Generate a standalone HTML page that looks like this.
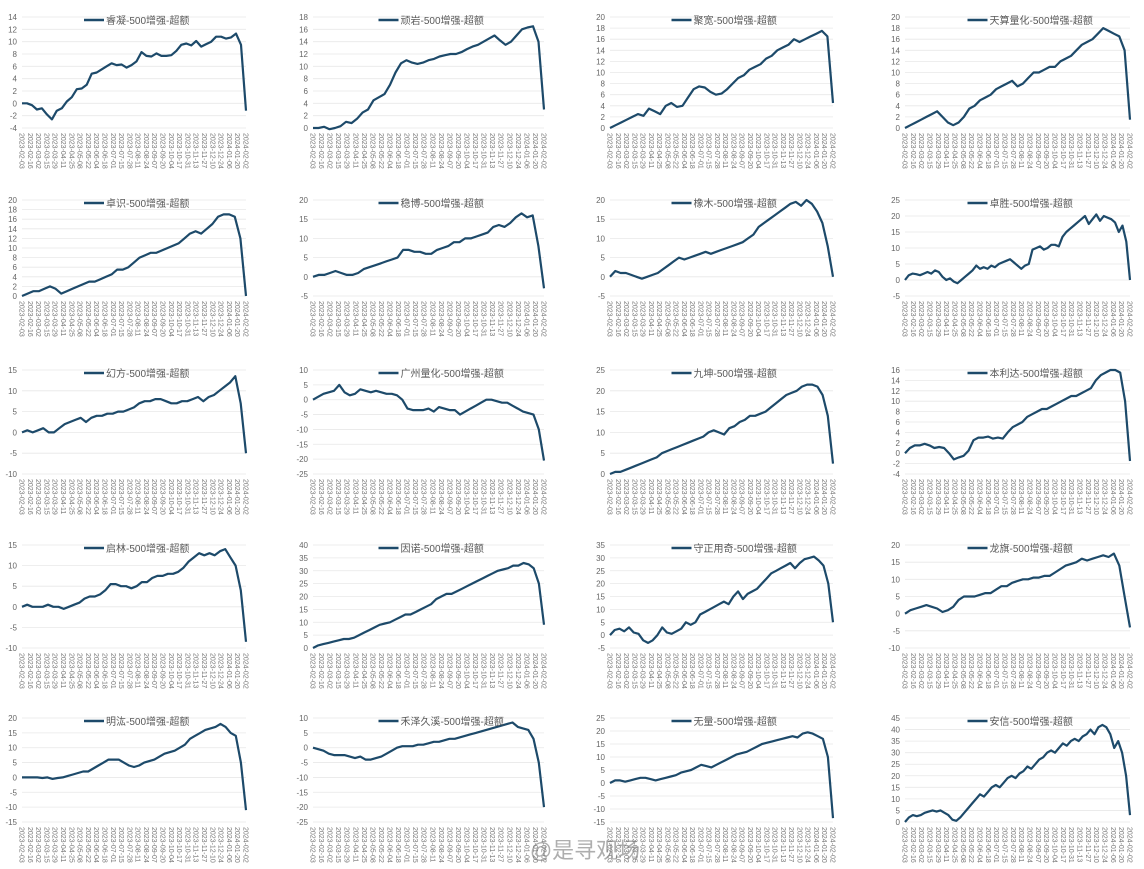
<!DOCTYPE html>
<html><head><meta charset="utf-8">
<style>
html,body{margin:0;padding:0;background:#fff;}
svg{display:block;font-family:"Liberation Sans","Noto Sans CJK SC",sans-serif;}
</style></head>
<body>
<svg id="root" width="1144" height="869" viewBox="0 0 1144 869">
<text x="585" y="858" font-size="22" fill="#9a9a9a" opacity="0.8" text-anchor="middle">@是寻观场</text>
</svg>
<script>
const titles = ["睿凝","顽岩","聚宽","天算量化","卓识","稳博","橡木","卓胜","幻方","广州量化","九坤","本利达","启林","因诺","守正用奇","龙旗","明汯","禾泽久溪","无量","安信"];
const yMins = [-4,0,0,0, 0,-5,-5,-5, -10,-25,0,-4, -10,0,-5,-10, -15,-25,-15,0];
const yMaxs = [14,18,20,20, 20,20,20,25, 15,10,25,16, 15,40,35,20, 20,10,25,45];
const ySteps = [2,2,2,2, 2,5,5,5, 5,5,5,2, 5,5,5,5, 5,5,5,5];
const s1=[0,0,-0.3,-1,-0.8,-1.8,-2.6,-1.2,-0.8,0.3,1,2.3,2.4,3,4.8,5,5.5,6,6.5,6.2,6.3,5.8,6.2,6.8,8.3,7.7,7.6,8.1,7.7,7.7,7.8,8.5,9.5,9.7,9.4,10.1,9.2,9.6,10,10.8,10.8,10.5,10.7,11.3,9.5,-1.2];
const s2=[0,0,0.2,-0.2,0,0.3,1,0.8,1.5,2.5,3,4.5,5,5.5,7,9,10.5,11,10.6,10.4,10.6,11,11.2,11.6,11.8,12,12,12.3,12.8,13.2,13.5,14,14.5,15,14.2,13.5,14,15,16,16.3,16.5,14,3];
const s3=[0,0.5,1,1.5,2,2.5,2.2,3.5,3,2.5,4,4.5,3.8,4,5.5,7,7.5,7.3,6.5,6,6.2,7,8,9,9.5,10.5,11,11.5,12.5,13,14,14.5,15,16,15.5,16,16.5,17,17.5,16.5,4.5];
const s4=[0,0.5,1,1.5,2,2.5,3,2,1,0.5,1,2,3.5,4,5,5.5,6,7,7.5,8,8.5,7.5,8,9,10,10,10.5,11,11,12,12.5,13,14,15,15.5,16,17,18,17.5,17,16.5,14,1.5];
const s5=[0,0.5,1,1,1.5,2,1.5,0.5,1,1.5,2,2.5,3,3,3.5,4,4.5,5.5,5.5,6,7,8,8.5,9,9,9.5,10,10.5,11,12,13,13.5,13,14,15,16.5,17,17,16.5,12,0];
const s6=[0,0.5,0.5,1,1.5,1,0.5,0.5,1,2,2.5,3,3.5,4,4.5,5,7,7,6.5,6.5,6,6,7,7.5,8,9,9,10,10,10.5,11,11.5,13,13.5,13,14,15.5,16.5,15.5,16,8,-3];
const s7=[0,1.5,1,1,0.5,0,-0.5,0,0.5,1,2,3,4,5,4.5,5,5.5,6,6.5,6,6.5,7,7.5,8,8.5,9,10,11,13,14,15,16,17,18,19,19.5,18.5,20,19,17,14,8,0];
const s8=[0,1.5,2,1.8,1.5,2,2.5,2,3,2.5,1,0,0.5,-0.5,-1,0,1,2,3,4.5,3.5,4,3.5,4.5,4,5,5.5,6,6.5,5.5,4.5,3.5,4.5,5,9.5,10,10.5,9.5,10,11,11,10.5,13.5,15,16,17,18,19,20,17.5,19,20.5,18.5,20,19.5,19,18,15,17,12,0];
const s9=[0,0.5,0,0.5,1,0,0,1,2,2.5,3,3.5,2.5,3.5,4,4,4.5,4.5,5,5,5.5,6,7,7.5,7.5,8,8,7.5,7,7,7.5,7.5,8,8.5,7.5,8.5,9,10,11,12,13.5,7,-5];
const s10=[0,1,2,2.5,3,5,2.5,1.5,2,3.5,3,2.5,3,2.5,2,2,1.5,0,-3,-3.5,-3.5,-3.5,-3,-4,-2.5,-3,-3.5,-3.5,-5,-4,-3,-2,-1,0,0,-0.5,-1,-1,-2,-3,-4,-4.5,-5,-10,-20.5];
const s11=[0,0.5,0.5,1,1.5,2,2.5,3,3.5,4,5,5.5,6,6.5,7,7.5,8,8.5,9,10,10.5,10,9.5,11,11.5,12.5,13,14,14,14.5,15,16,17,18,19,19.5,20,21,21.5,21.5,21,19,14,2.5];
const s12=[0,1,1.5,1.5,1.8,1.5,1,1.2,1,0,-1.2,-0.8,-0.5,0.5,2.5,3,3,3.2,2.8,3,2.8,4,5,5.5,6,7,7.5,8,8.5,8.5,9,9.5,10,10.5,11,11,11.5,12,12.5,14,15,15.5,16,16,15.5,10,-1.5];
const s13=[0,0.5,0,0,0,0.5,0,0,-0.5,0,0.5,1,2,2.5,2.5,3,4,5.5,5.5,5,5,4.5,5,6,6,7,7.5,7.5,8,8,8.5,9.5,11,12,13,12.5,13,12.5,13.5,14,12,10,4,-8.5];
const s14=[0,1,1.5,2,2.5,3,3.5,3.5,4,5,6,7,8,9,9.5,10,11,12,13,13,14,15,16,17,19,20,21,21,22,23,24,25,26,27,28,29,30,30.5,31,32,32,33,32.5,31,25,9];
const s15=[0,2,2.5,1.5,3,1,0.5,-2,-3,-2,0,3,1,0.5,1.5,2.5,5,4,5,8,9,10,11,12,13,12,15,17,14,16,17,18,20,22,24,25,26,27,28,26,28,29.5,30,30.5,29,27,20,5];
const s16=[0,1,1.5,2,2.5,2,1.5,0.5,1,2,4,5,5,5,5.5,6,6,7,8,8,9,9.5,10,10,10.5,10.5,11,11,12,13,14,14.5,15,16,15.5,16,16.5,17,16.5,17.5,14,5,-4];
const s17=[0,0,0,0,-0.2,0,-0.5,-0.2,0,0.5,1,1.5,2,2,3,4,5,6,6,6,5,4,3.5,4,5,5.5,6,7,8,8.5,9,10,11,13,14,15,16,16.5,17,18,17,15,14,5,-11];
const s18=[0,-0.5,-1,-2,-2.5,-2.5,-2.5,-3,-3.5,-3,-4,-4,-3.5,-3,-2,-1,0,0.5,0.5,0.5,1,1,1.5,2,2,2.5,3,3,3.5,4,4.5,5,5.5,6,6.5,7,7.5,8,8.5,7,6.5,6,3,-5,-20];
const s19=[0,1,1,0.5,1,1.5,2,2,1.5,1,1.5,2,2.5,3,4,4.5,5,6,7,6.5,6,7,8,9,10,11,11.5,12,13,14,15,15.5,16,16.5,17,17.5,18,17.5,19,19.5,19,18,17,10,-13.5];
const s20=[0,2,3,2.5,3,4,4.5,5,4.5,5,4,3,1,0.5,2,4,6,8,10,12,11,13,15,16,15,17,19,20,19,21,22,24,23,25,27,28,30,31,30,32,34,33,35,36,35,37,38,40,38,41,42,41,38,32,35,30,20,3];
const series=[s1,s2,s3,s4,s5,s6,s7,s8,s9,s10,s11,s12,s13,s14,s15,s16,s17,s18,s19,s20];

const NS="http://www.w3.org/2000/svg";
const root=document.getElementById('root');
const colX=[[22,246],[313,544],[610,833],[905,1130]];
const rowY=[[17,128],[200,296],[370,474],[545,648],[718,822]];
function mk(tag,attrs,parent){const e=document.createElementNS(NS,tag);for(const k in attrs)e.setAttribute(k,attrs[k]);(parent||root).appendChild(e);return e;}
function fmtDate(d){const m=String(d.getMonth()+1).padStart(2,'0'),dd=String(d.getDate()).padStart(2,'0');return d.getFullYear()+'-'+m+'-'+dd;}

for(let i=0;i<20;i++){
  const c=i%4,r=Math.floor(i/4);
  const [x0,x1]=colX[c],[yt,yb]=rowY[r];
  const g=mk('g',{});
  
  
  const yMin=yMins[i],yMax=yMaxs[i],step=ySteps[i];
  const ys=v=>yb-(v-yMin)/(yMax-yMin)*(yb-yt);
  for(let v=yMin;v<=yMax+1e-9;v+=step){
    const gl=mk('line',{x1:x0,x2:x1,y1:ys(v),y2:ys(v),stroke:'#e8e8e8','stroke-width':0.8},g);
    
    
    const t=mk('text',{x:x0-5,y:ys(v)+3,'font-size':8,fill:'#666','text-anchor':'end'},g);
    t.textContent=v;
    
    
  }
  const n=28;
  const start=new Date(2023,1,3);
  for(let k=0;k<n;k++){
    const d=new Date(start.getTime()+k*13.5*86400000);
    const x=x0+k*(x1-x0)/(n-1);
    const t=mk('text',{x:0,y:0,'font-size':7,fill:'#777',transform:`translate(${x-2.5},${yb+5}) rotate(90)`},g);
    t.textContent=fmtDate(d);
    
    
  }
  const data=series[i];
  const xs=j=>x0+j*(x1-x0)/(data.length-1);
  const pts=data.map((v,j)=>xs(j).toFixed(1)+','+ys(v).toFixed(1)).join(' ');
  const pl=mk('polyline',{points:pts,fill:'none',stroke:'#1d4a6a','stroke-width':2.2,'stroke-linejoin':'round'},g);
  
  
  const cx=(x0+x1)/2;
  const lg=mk('line',{x1:cx-50,x2:cx-30,y1:yt+3,y2:yt+3,stroke:'#1d4a6a','stroke-width':2.5},g);
  
  
  const lt=mk('text',{x:cx-28,y:yt+7,'font-size':10,fill:'#595959'},g);
  lt.textContent=titles[i]+'-500增强-超额';
  
  
}
</script>
</body></html>
